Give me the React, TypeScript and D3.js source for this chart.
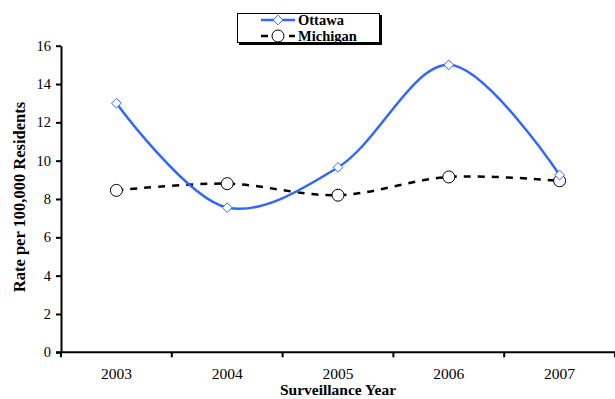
import { useEffect, useRef } from 'react';
import * as d3 from 'd3';

const years = ['2003', '2004', '2005', '2006', '2007'];
const ottawa = [13.0, 7.55, 9.65, 15.0, 9.25];
const michigan = [8.45, 8.8, 8.2, 9.15, 8.95];
const yTicks = [0, 2, 4, 6, 8, 10, 12, 14, 16];

const W = 615;
const H = 399;
const FONT = '"Liberation Serif", "Times New Roman", serif';

export default function App() {
  const ref = useRef<SVGSVGElement>(null);

  useEffect(() => {
    document.body.style.margin = '0';
    if (!ref.current) return;
    const svg = d3.select(ref.current);
    svg.selectAll('*').remove();

    const left = 61;
    const right = 615;
    const top = 45.7;
    const bottom = 352.3;

    const x = d3.scaleBand<string>().domain(years).range([left, right]).padding(0);
    const y = d3.scaleLinear().domain([0, 16]).range([bottom, top]);
    const cx = (d: string) => (x(d) as number) + x.bandwidth() / 2;

    // y axis
    const yAxis = svg.append('g')
      .attr('transform', `translate(${left},0)`)
      .call(d3.axisLeft(y).tickValues(yTicks).tickSize(5).tickSizeOuter(0).tickPadding(5));
    yAxis.select('.domain').attr('stroke', '#000').attr('stroke-width', 2);
    yAxis.selectAll('.tick line').attr('stroke', '#000').attr('stroke-width', 2);
    yAxis.selectAll('.tick text')
      .attr('font-family', FONT).attr('font-size', 14.5).attr('fill', '#000');

    // x axis, ticks between categories
    const xAxis = svg.append('g');
    xAxis.append('line')
      .attr('x1', left - 5).attr('x2', right)
      .attr('y1', bottom).attr('y2', bottom)
      .attr('stroke', '#000').attr('stroke-width', 2);
    const edges = years.map(d => x(d) as number).concat([right]);
    xAxis.selectAll('line.tk').data(edges).enter().append('line')
      .attr('class', 'tk')
      .attr('x1', d => d).attr('x2', d => d)
      .attr('y1', bottom).attr('y2', bottom + 5)
      .attr('stroke', '#000').attr('stroke-width', 2);
    xAxis.selectAll('text').data(years).enter().append('text')
      .attr('x', d => cx(d)).attr('y', 379)
      .attr('text-anchor', 'middle')
      .attr('font-family', FONT).attr('font-size', 15.5)
      .text(d => d);

    // axis titles
    svg.append('text')
      .attr('x', 338).attr('y', 395)
      .attr('text-anchor', 'middle')
      .attr('font-family', FONT).attr('font-size', 15.5).attr('font-weight', 'bold')
      .text('Surveillance Year');
    svg.append('text')
      .attr('transform', `translate(25,197) rotate(-90)`)
      .attr('text-anchor', 'middle')
      .attr('font-family', FONT).attr('font-size', 16.5).attr('font-weight', 'bold')
      .text('Rate per 100,000 Residents');

    const line = d3.line<number>()
      .x((_, i) => cx(years[i]))
      .y(d => y(d))
      .curve(d3.curveCatmullRom.alpha(0.5));

    // Michigan
    svg.append('path')
      .datum(michigan)
      .attr('d', line)
      .attr('fill', 'none')
      .attr('stroke', '#000')
      .attr('stroke-width', 2.5)
      .attr('stroke-dasharray', '7,7');
    svg.selectAll('circle.mi').data(michigan).enter().append('circle')
      .attr('class', 'mi')
      .attr('cx', (_, i) => cx(years[i]))
      .attr('cy', d => y(d))
      .attr('r', 6)
      .attr('fill', '#fff').attr('stroke', '#000').attr('stroke-width', 1);

    // Ottawa
    svg.append('path')
      .datum(ottawa)
      .attr('d', line)
      .attr('fill', 'none')
      .attr('stroke', '#3366ff')
      .attr('stroke-width', 2.5);
    const diamond = d3.symbol().type(d3.symbolDiamond2).size(60);
    svg.selectAll('path.ot').data(ottawa).enter().append('path')
      .attr('class', 'ot')
      .attr('d', diamond)
      .attr('transform', (d, i) => `translate(${cx(years[i])},${y(d)})`)
      .attr('fill', '#fff').attr('stroke', '#3366ff').attr('stroke-width', 1);

    // legend
    const lg = svg.append('g');
    lg.append('rect')
      .attr('x', 239).attr('y', 15).attr('width', 143).attr('height', 30)
      .attr('fill', '#000');
    lg.append('rect')
      .attr('x', 237.5).attr('y', 13.5).attr('width', 142).attr('height', 29)
      .attr('fill', '#fff').attr('stroke', '#000').attr('stroke-width', 1);
    lg.append('line')
      .attr('x1', 261).attr('x2', 295).attr('y1', 20).attr('y2', 20)
      .attr('stroke', '#3366ff').attr('stroke-width', 2.5);
    lg.append('path')
      .attr('d', diamond)
      .attr('transform', 'translate(278,20)')
      .attr('fill', '#fff').attr('stroke', '#3366ff').attr('stroke-width', 1);
    lg.append('line')
      .attr('x1', 261).attr('x2', 295).attr('y1', 36).attr('y2', 36)
      .attr('stroke', '#000').attr('stroke-width', 2.5)
      .attr('stroke-dasharray', '7,7');
    lg.append('circle')
      .attr('cx', 278).attr('cy', 36).attr('r', 6)
      .attr('fill', '#fff').attr('stroke', '#000').attr('stroke-width', 1);
    lg.append('text')
      .attr('x', 298).attr('y', 25)
      .attr('font-family', FONT).attr('font-size', 14.5).attr('font-weight', 'bold')
      .text('Ottawa');
    lg.append('text')
      .attr('x', 298).attr('y', 41)
      .attr('font-family', FONT).attr('font-size', 14.5).attr('font-weight', 'bold')
      .text('Michigan');
  }, []);

  return (
    <svg ref={ref} width={W} height={H} style={{ display: 'block', background: '#fff' }} />
  );
}
